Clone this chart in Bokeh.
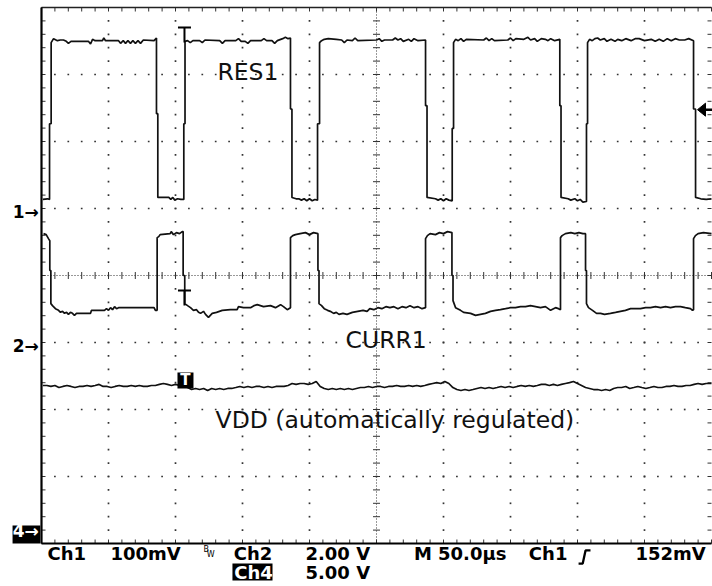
import numpy as np
from bokeh.plotting import figure
from bokeh.models import Range1d
from bokeh.embed import file_html
from bokeh.resources import INLINE
from bokeh.core.properties import value

# ---------------- values ----------------
time_per_div_us = 50.0
n_xdiv, n_ydiv = 10, 8
ch1_mv_per_div = 100.0
ch2_v_per_div = 2.0
ch4_v_per_div = 5.0
ch1_ground_div = 0.955
ch2_ground_div = -1.045
ch4_ground_div = -3.82
trigger_time_us = 106.7
trigger_level_mv = 152.0

# RES1 (Ch1, mV)
res1_t = [1.0, 4.5, 6.0, 6.0, 7.2, 7.2,
          9.0, 11.9, 14.0, 16.4, 18.5, 20.1, 22.0, 35.0, 36.6, 38.1, 40.0, 45.5, 46.5, 47.8, 57.5, 59.0, 61.0, 62.7, 64.5, 66.4, 68.2, 70.1, 72.0, 73.9, 76.0, 84.0, 85.8,
          85.8, 86.8, 86.8, 95.0, 96.5, 98.0, 99.5, 101.5, 104.0, 106.2, 106.2, 107.1, 107.1,
          109.0, 111.0, 113.0, 118.0, 120.0, 122.0, 133.0, 135.0, 137.0, 145.0, 147.0, 149.0, 152.0, 154.0, 156.0, 164.0, 166.0, 168.0, 172.0, 174.0, 176.0, 180.0, 182.0, 184.0, 185.8,
          185.8, 186.9, 186.9, 190.0, 192.0, 194.0, 196.0, 198.0, 200.0, 202.0, 204.0, 206.0, 206.0, 207.5, 207.5,
          209.0, 211.0, 214.0, 220.0, 224.0, 226.0, 228.0, 232.0, 234.0, 236.0, 250.0, 252.0, 254.0, 256.0, 262.0, 264.0, 266.0, 268.0, 270.0, 274.0, 276.0, 278.0, 281.0, 286.6,
          286.6, 287.7, 287.7, 294.0, 296.0, 298.0, 300.0, 302.0, 304.0, 306.5, 306.5, 307.5, 307.5,
          309.0, 311.0, 313.0, 315.0, 317.0, 330.0, 332.0, 334.0, 336.0, 338.0, 348.0, 350.0, 352.0, 354.0, 360.0, 363.0, 365.0, 368.0, 370.0, 373.0, 376.0, 378.0, 380.0, 383.0, 386.8,
          386.8, 387.7, 387.7, 393.0, 395.0, 398.0, 400.0, 402.0, 404.0, 406.7, 406.7, 407.5, 407.5,
          409.0, 411.0, 413.0, 415.0, 417.0, 420.0, 422.0, 425.0, 428.0, 430.0, 433.0, 436.0, 440.0, 443.0, 446.0, 450.0, 455.0, 458.0, 461.0, 464.0, 467.0, 470.0, 473.0, 476.0, 480.0, 483.0, 486.6,
          486.6, 488.1, 488.1, 492.0, 496.0, 500.0]
res1_mv = [18, 19, 18, 131, 131, 252,
           258, 255, 256, 256, 254, 251, 254, 254, 250, 257, 255, 255, 259, 255, 255, 251, 255, 251, 255, 251, 255, 251, 255, 251, 256, 255, 259,
           146, 146, 21, 21, 18, 21, 17, 19, 18, 18, 131, 131, 254,
           255, 252, 255, 255, 252, 256, 255, 251, 255, 255, 258, 254, 254, 251, 255, 255, 258, 255, 255, 251, 255, 258, 260, 258, 259,
           153, 153, 21, 19, 19, 17, 19, 16, 19, 16, 18, 17, 131, 131, 252,
           255, 257, 258, 257, 256, 252, 256, 255, 259, 255, 256, 258, 254, 256, 256, 259, 256, 258, 254, 257, 254, 258, 255, 256,
           158, 158, 21, 19, 17, 19, 16, 19, 17, 16, 124, 124, 252,
           257, 255, 258, 254, 257, 256, 259, 255, 258, 255, 256, 259, 255, 258, 257, 260, 256, 258, 254, 258, 257, 255, 258, 255, 257,
           158, 158, 21, 19, 17, 19, 16, 18, 14, 15, 131, 131, 252,
           257, 255, 258, 259, 256, 258, 254, 257, 254, 257, 255, 258, 255, 258, 258, 255, 257, 254, 257, 254, 258, 255, 258, 256, 256, 258, 255,
           153, 153, 21, 19, 18, 19]

# CURR1 (Ch2, V)
curr1_t = [1.5, 3.5, 5.2, 6.2, 6.2, 7.0, 7.0, 8.2, 10.4, 12.7, 14.2, 15.7, 17.2, 18.7, 20.1, 21.6, 23.1, 24.6, 26.1, 36.6, 37.3, 47.0, 48.5, 50.0, 51.5, 53.0, 54.5, 56.0, 57.5, 60.0, 84.0, 85.0, 86.3,
           86.3, 87.5, 88.5, 96.0, 96.8, 98.5, 100.7, 103.0, 105.0, 105.7, 105.7, 106.9, 106.9, 109.0, 111.2, 113.4, 115.7, 117.2, 118.7, 120.9, 122.4, 124.6, 127.4, 130.6, 134.9, 141.0, 146.0, 147.0, 150.7, 156.0, 158.5, 161.0, 165.7, 170.9, 174.6, 178.4, 180.6, 183.4, 185.8,
           185.8, 187.5, 189.5, 193.0, 197.0, 200.0, 203.0, 206.3, 206.3, 207.1, 207.1, 209.0, 211.0, 213.5, 215.5, 218.0, 220.0, 222.0, 225.0, 228.0, 232.0, 236.0, 240.0, 243.0, 245.0, 248.0, 251.0, 254.0, 257.0, 260.0, 263.0, 266.0, 269.0, 272.0, 275.0, 278.0, 281.0, 284.0, 286.6,
           286.6, 288.0, 290.0, 294.0, 297.0, 300.0, 303.0, 306.3, 306.3, 307.1, 307.1, 309.0, 312.7, 315.0, 320.2, 323.9, 327.6, 331.3, 335.1, 338.8, 342.5, 346.3, 350.0, 353.7, 357.5, 361.2, 364.9, 368.7, 372.4, 376.1, 379.9, 383.6, 385.8, 387.3,
           387.3, 388.5, 391.0, 395.0, 398.0, 401.0, 404.0, 406.0, 406.0, 406.7, 406.7, 408.2, 411.2, 414.2, 417.2, 420.2, 424.6, 428.4, 432.1, 435.8, 439.6, 447.0, 450.8, 454.5, 458.2, 462.0, 465.7, 469.4, 473.1, 476.9, 480.5, 484.3, 485.8, 486.6,
           486.6, 488.0, 490.0, 494.0, 500.0]
curr1_v = [3.34, 3.31, 3.19, 3.13, 2.24, 2.24, 1.25, 1.19, 1.10, 1.05, 0.99, 1.02, 0.96, 0.99, 0.93, 0.99, 0.96, 0.90, 0.96, 0.96, 1.05, 1.05, 1.10, 1.05, 1.13, 1.07, 1.16, 1.10, 1.13, 1.13, 1.13, 1.05, 1.05,
           3.22, 3.25, 3.31, 3.34, 3.40, 3.31, 3.37, 3.34, 3.40, 3.40, 2.09, 2.09, 1.25, 1.19, 1.13, 1.05, 1.07, 0.99, 0.96, 1.02, 0.93, 0.84, 0.96, 0.99, 1.05, 1.07, 1.07, 1.16, 1.13, 1.13, 1.19, 1.22, 1.16, 1.19, 1.13, 1.22, 1.16, 1.07, 1.13,
           3.22, 3.28, 3.31, 3.34, 3.37, 3.31, 3.37, 3.34, 2.24, 2.24, 1.25, 1.19, 1.10, 1.05, 1.02, 0.96, 0.99, 0.93, 0.96, 0.93, 0.99, 1.02, 1.05, 1.02, 1.10, 1.07, 1.13, 1.10, 1.16, 1.13, 1.16, 1.10, 1.16, 1.13, 1.19, 1.13, 1.16, 1.10, 1.13,
           3.19, 3.28, 3.34, 3.31, 3.37, 3.34, 3.40, 3.37, 2.09, 2.09, 1.34, 1.13, 1.05, 0.99, 0.96, 0.90, 0.93, 0.96, 1.02, 1.05, 1.07, 1.10, 1.13, 1.13, 1.16, 1.16, 1.19, 1.16, 1.13, 1.16, 1.05, 1.13, 1.10, 1.07,
           3.22, 3.28, 3.34, 3.37, 3.34, 3.37, 3.34, 3.34, 2.24, 2.24, 1.25, 1.13, 1.05, 0.96, 0.96, 0.93, 0.96, 0.99, 1.02, 1.05, 1.10, 1.10, 1.13, 1.13, 1.16, 1.13, 1.16, 1.13, 1.16, 1.16, 1.13, 1.10, 1.05, 1.07,
           3.19, 3.28, 3.34, 3.37, 3.34]

# VDD (Ch4, V)
vdd_t = [1, 4, 7, 10, 13, 16, 19, 22, 25, 28, 31, 34, 37, 40, 43, 46, 49, 52, 55, 58, 61, 64, 67, 70, 73, 76, 79, 82, 85,
         88, 91, 94, 97, 100, 103, 106,
         109, 112, 115, 118, 121, 124, 127, 130, 133, 136, 139, 142, 145,
         148, 151, 154, 157, 160, 163, 166, 169, 172, 175, 178, 181, 184,
         187, 190, 193, 196, 199, 202, 205,
         208, 211, 214, 217, 220, 223, 226, 229, 232, 235, 238,
         241, 244, 247, 250, 253, 256, 259, 262, 265, 268, 271, 274, 277, 280, 283, 286,
         289, 292, 295, 298, 301, 304,
         307, 310, 313, 316, 319, 322, 325,
         328, 331, 334, 337, 340, 343, 346, 349, 352, 355, 358, 361, 364, 367, 370, 373, 376, 379, 382, 385,
         388, 391, 394, 397, 400,
         403, 406, 409, 412, 415, 418, 421, 424, 427,
         430, 433, 436, 439, 442, 445, 448, 451, 454, 457, 460, 463, 466, 469, 472, 475, 478, 481, 484,
         487, 490, 493, 496, 500]
vdd_v = [10.89, 10.89, 10.82, 10.89, 10.74, 10.82, 10.89, 10.82, 10.74, 10.82, 10.82, 10.89, 10.82, 10.89, 10.97, 10.82, 10.82, 10.74, 10.82, 10.89, 10.82, 10.82, 10.89, 10.82, 10.89, 10.82, 10.82, 10.89, 10.89,
         10.97, 11.04, 10.97, 10.89, 10.97, 10.89, 10.82,
         10.74, 10.59, 10.67, 10.59, 10.67, 10.52, 10.67, 10.59, 10.67, 10.59, 10.67, 10.67, 10.74,
         10.82, 10.74, 10.82, 10.74, 10.82, 10.82, 10.74, 10.82, 10.74, 10.82, 10.82, 10.82, 10.89,
         11.04, 10.97, 11.04, 11.04, 10.97, 11.04, 11.19,
         10.82, 10.67, 10.59, 10.67, 10.59, 10.67, 10.59, 10.67, 10.59, 10.67, 10.74,
         10.74, 10.82, 10.74, 10.82, 10.82, 10.74, 10.82, 10.82, 10.89, 10.82, 10.82, 10.89, 10.82, 10.89, 10.82, 10.89,
         10.97, 11.04, 11.11, 11.04, 11.19, 11.04,
         10.74, 10.59, 10.52, 10.59, 10.52, 10.59, 10.67,
         10.74, 10.67, 10.74, 10.67, 10.74, 10.82, 10.74, 10.82, 10.74, 10.82, 10.89, 10.82, 10.89, 10.82, 10.89, 10.97, 10.97, 10.89, 10.97, 10.89,
         10.97, 11.04, 11.11, 11.19, 11.04,
         10.89, 10.74, 10.67, 10.59, 10.59, 10.52, 10.59, 10.52, 10.67,
         10.74, 10.74, 10.82, 10.67, 10.74, 10.82, 10.74, 10.67, 10.74, 10.82, 10.74, 10.74, 10.82, 10.82, 10.89, 10.82, 10.82, 10.89, 10.89,
         10.97, 11.04, 10.97, 11.04, 11.04]

trace_names = ["RES1", "CURR1", "VDD (automatically regulated)"]
status_row1 = ["Ch1", "100mV", "Ch2", "2.00 V", "M 50.0µs", "Ch1", "152mV"]
status_row2 = ["5.00 V"]
ch4_tag = "Ch4"

# ---------------- layout (positions / sizes) ----------------
W, H = 712, 586
PX_X, PX_Y = 67.0, 67.0           # pixels per division
X0_PX, Y0_PX = 41, 7              # where t=0 / top graticule line sit
us_px = time_per_div_us / PX_X
dv_px = 1.0 / PX_Y
t_end = n_xdiv * time_per_div_us
top, bot = n_ydiv / 2, -n_ydiv / 2
x_start = -X0_PX * us_px
x_end = x_start + W * us_px
y_end = top + Y0_PX * dv_px
y_start = y_end - H * dv_px

p = figure(width=W, height=H, x_range=Range1d(x_start, x_end), y_range=Range1d(y_start, y_end),
           output_backend="svg", toolbar_location=None, min_border=0,
           x_axis_location=None, y_axis_location=None, outline_line_color=None,
           background_fill_color="white", border_fill_color="white")
p.xgrid.visible = False
p.ygrid.visible = False
p.extra_y_ranges = {
    "ch1": Range1d((y_start - ch1_ground_div) * ch1_mv_per_div, (y_end - ch1_ground_div) * ch1_mv_per_div),
    "ch2": Range1d((y_start - ch2_ground_div) * ch2_v_per_div, (y_end - ch2_ground_div) * ch2_v_per_div),
    "ch4": Range1d((y_start - ch4_ground_div) * ch4_v_per_div, (y_end - ch4_ground_div) * ch4_v_per_div),
}

# ---------------- graticule ----------------
minor_x = np.arange(0, 5 * n_xdiv + 1) * time_per_div_us / 5
minor_y = np.arange(-5 * n_ydiv // 2, 5 * n_ydiv // 2 + 1) * 0.2
dx, dy = [], []
for k in range(1, n_xdiv):
    if k == n_xdiv // 2:
        continue
    for yy in minor_y[1:-1]:
        dx.append(k * time_per_div_us); dy.append(yy)
for j in range(-n_ydiv // 2 + 1, n_ydiv // 2):
    if j == 0:
        continue
    for xx in minor_x[1:-1]:
        dx.append(xx); dy.append(j)
p.scatter(dx, dy, marker="square", size=1.7, fill_color="#333333", line_color=None)

tc = "#333333"
xc = t_end / 2
# center cross (dense dotted) + its ticks
p.line([0, t_end], [0, 0], line_color=tc, line_width=1, line_dash="1 2")
p.line([xc, xc], [bot, top], line_color=tc, line_width=1, line_dash="1 2")
p.segment(x0=minor_x, y0=-3.5 * dv_px, x1=minor_x, y1=3.5 * dv_px, line_color=tc, line_width=1)
p.segment(x0=xc - 3.5 * us_px, y0=minor_y, x1=xc + 3.5 * us_px, y1=minor_y, line_color=tc, line_width=1)
# edge ticks
p.segment(x0=0, y0=minor_y, x1=4 * us_px, y1=minor_y, line_color=tc, line_width=1)
p.segment(x0=t_end - 4 * us_px, y0=minor_y, x1=t_end, y1=minor_y, line_color=tc, line_width=1)
p.segment(x0=minor_x, y0=top, x1=minor_x, y1=top - 4 * dv_px, line_color=tc, line_width=1)
p.segment(x0=minor_x, y0=bot, x1=minor_x, y1=bot + 4 * dv_px, line_color=tc, line_width=1)
# frame
p.line([0, t_end], [top, top], line_color="#222222", line_width=1.3)
p.line([0, 0], [bot, top], line_color="black", line_width=2.2)
p.line([0, t_end], [bot, bot], line_color="black", line_width=2.2)

# ---------------- traces ----------------
tr = "#111111"
p.line(res1_t, res1_mv, y_range_name="ch1", line_color=tr, line_width=1.7)
p.line(curr1_t, curr1_v, y_range_name="ch2", line_color=tr, line_width=1.7)
p.line(vdd_t, vdd_v, y_range_name="ch4", line_color=tr, line_width=1.7)

# ---------------- trigger markers ----------------
tt = trigger_time_us
p.segment(x0=[tt - 6.5 * us_px, tt], y0=[top - 20 * dv_px, top - 20 * dv_px],
          x1=[tt + 6.5 * us_px, tt], y1=[top - 20 * dv_px, top - 35 * dv_px],
          line_color="black", line_width=2)
y_t2 = -0.224
p.segment(x0=[tt - 6.5 * us_px, tt], y0=[y_t2, y_t2], x1=[tt + 6.5 * us_px, tt], y1=[y_t2, y_t2 - 15 * dv_px],
          line_color="black", line_width=2)
# filled T box on VDD
p.quad(left=[tt - 7 * us_px], right=[tt + 9 * us_px], bottom=[-1.687], top=[-1.448], fill_color="black", line_color=None)
p.text(x=[tt + 1 * us_px], y=[-1.567], text=["T"], text_font=value("DejaVu Sans"), text_font_style="bold",
       text_font_size="15px", text_color="white", text_align="center", text_baseline="middle")
# trigger level arrow on the right edge (Ch1 scale)
ah = 6.5 * ch1_mv_per_div * dv_px
p.patch([t_end - 14 * us_px, t_end - 6 * us_px, t_end - 6 * us_px],
        [trigger_level_mv, trigger_level_mv + ah, trigger_level_mv - ah],
        y_range_name="ch1", fill_color="black", line_color="black", line_width=1)
p.line([t_end - 7 * us_px, t_end + 1 * us_px], [trigger_level_mv, trigger_level_mv], y_range_name="ch1",
       line_color="black", line_width=2.5)

# ---------------- channel ground markers ----------------
p.text(x=[-2.0, -2.0], y=[ch1_ground_div, ch2_ground_div], text=["1→", "2→"],
       text_font=value("DejaVu Sans"), text_font_style="bold", text_font_size="17px",
       text_color="black", text_align="right", text_baseline="middle")
p.quad(left=[-21.6], right=[-0.9], bottom=[bot], top=[bot + 18 * dv_px], fill_color="black", line_color=None)
p.text(x=[-2.0], y=[ch4_ground_div], text=["4→"], text_font=value("DejaVu Sans"), text_font_style="bold",
       text_font_size="17px", text_color="white", text_align="right", text_baseline="middle")

# ---------------- trace names ----------------
p.text(x=[131.3, 226.9, 129.9], y=[3.037, -0.963, -2.157], text=trace_names,
       text_font=value("DejaVu Sans"), text_font_size="23.5px", text_color="#111111",
       text_align="left", text_baseline="middle")

# ---------------- status line ----------------
row1_y, row2_y = -4.142, -4.440
p.text(x=[4.5, 51.5, 143.5, 197.0, 277.9, 363.7, 443.3], y=[row1_y] * 7, text=status_row1,
       text_font=value("DejaVu Sans"), text_font_style="bold", text_font_size="18px", text_color="black",
       text_align="left", text_baseline="middle")
p.text(x=[120.9], y=[-4.090], text=["B"], text_font=value("DejaVu Sans"), text_font_size="8px",
       text_color="black", text_align="left", text_baseline="middle")
p.text(x=[123.3], y=[-4.157], text=["W"], text_font=value("DejaVu Sans"), text_font_size="8px",
       text_color="black", text_align="left", text_baseline="middle")
# rising-slope symbol
p.line([400.8, 403.9, 406.0, 409.7], [-4.299, -4.299, -4.104, -4.104], line_color="black", line_width=2.3)
# second row
p.quad(left=[142.5], right=[172.4], bottom=[-4.552], top=[-4.299], fill_color="black", line_color=None)
p.text(x=[143.8], y=[row2_y], text=[ch4_tag], text_font=value("DejaVu Sans"), text_font_style="bold",
       text_font_size="18px", text_color="white", text_align="left", text_baseline="middle")
p.text(x=[197.0], y=[row2_y], text=status_row2, text_font=value("DejaVu Sans"), text_font_style="bold",
       text_font_size="18px", text_color="black", text_align="left", text_baseline="middle")

open("out.html", "w").write(file_html(p, INLINE))
